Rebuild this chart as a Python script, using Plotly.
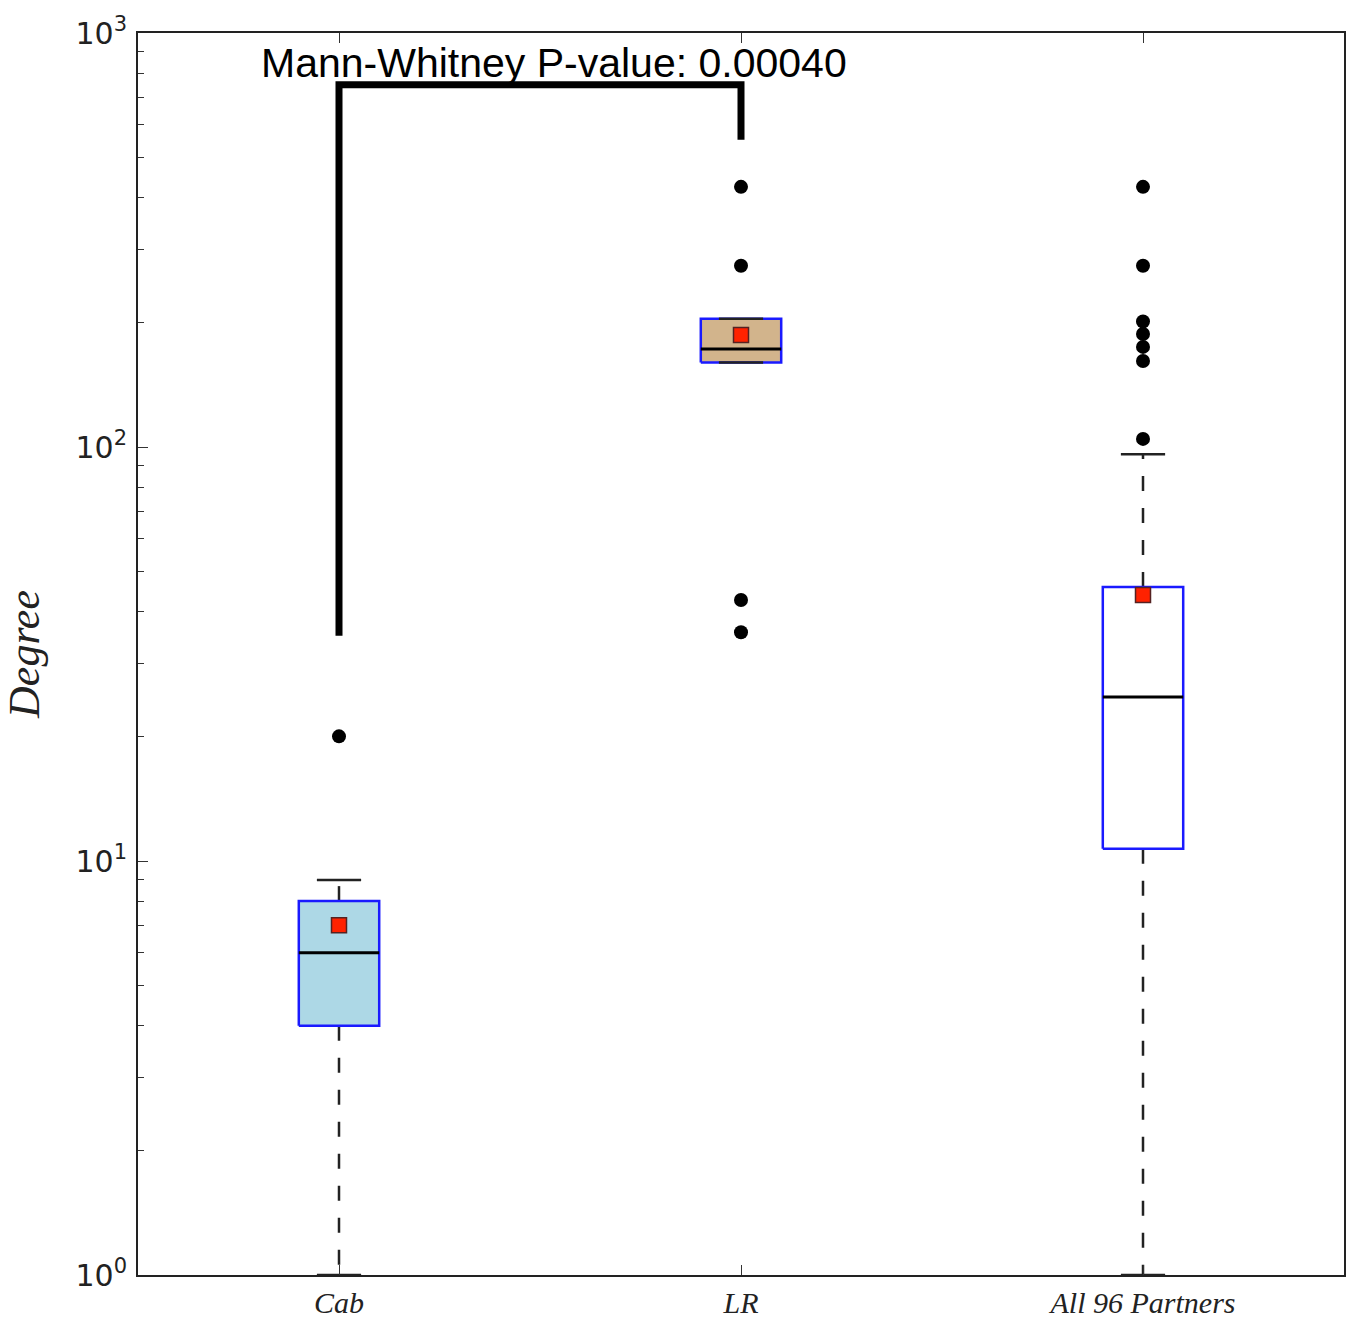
import plotly.graph_objects as go

# ---- data ----
categories = ["Cab", "LR", "All 96 Partners"]
positions = [1, 2, 3]
q1 = [4.0, 160.0, 10.7]
median = [6.0, 172.5, 24.9]
q3 = [8.0, 204.0, 45.9]
lower_whisker = [1.0, 160.0, 1.0]
upper_whisker = [9.0, 204.0, 96.0]
means = [7.0, 186.5, 43.9]
outliers = [
    [20.0],
    [425.0, 274.0, 42.7, 35.7],
    [425.0, 274.0, 201.0, 187.5, 174.5, 161.4, 104.6],
]
fill_colors = ["#add8e6", "#d2b48c", "#ffffff"]

bracket_left_bottom = 35.0
bracket_top = 750.0
bracket_right_bottom = 552.0
pvalue_text = "Mann-Whitney P-value: 0.00040"

y_tickvals = [1, 10, 100, 1000]
y_ticktext = ["10<sup>0</sup>", "10<sup>1</sup>", "10<sup>2</sup>", "10<sup>3</sup>"]
minor_vals = [m * 10 ** e for e in range(0, 3) for m in range(2, 10)]

BOX_HALF = 0.1
CAP_HALF = 0.055
DASH = "15px,17px"

fig = go.Figure()

for i, x in enumerate(positions):
    # whiskers (dashed)
    fig.add_trace(go.Scatter(x=[x, x], y=[q3[i], upper_whisker[i]], mode="lines",
                             line=dict(color="#222222", width=2.5, dash=DASH),
                             hoverinfo="skip", showlegend=False))
    fig.add_trace(go.Scatter(x=[x, x], y=[q1[i], lower_whisker[i]], mode="lines",
                             line=dict(color="#222222", width=2.5, dash=DASH),
                             hoverinfo="skip", showlegend=False))
    # box
    fig.add_trace(go.Scatter(
        x=[x - BOX_HALF, x + BOX_HALF, x + BOX_HALF, x - BOX_HALF, x - BOX_HALF],
        y=[q1[i], q1[i], q3[i], q3[i], q1[i]],
        mode="lines", fill="toself", fillcolor=fill_colors[i],
        line=dict(color="#1a1aff", width=2.5), hoverinfo="skip", showlegend=False))
    # caps
    for w in (upper_whisker[i], lower_whisker[i]):
        fig.add_trace(go.Scatter(x=[x - CAP_HALF, x + CAP_HALF], y=[w, w], mode="lines",
                                 line=dict(color="#222222", width=2.5),
                                 hoverinfo="skip", showlegend=False))
    # median
    fig.add_trace(go.Scatter(x=[x - BOX_HALF, x + BOX_HALF], y=[median[i], median[i]],
                             mode="lines", line=dict(color="black", width=3),
                             hoverinfo="skip", showlegend=False))
    # outliers
    fig.add_trace(go.Scatter(x=[x] * len(outliers[i]), y=outliers[i], mode="markers",
                             marker=dict(color="black", size=14, symbol="circle"),
                             hoverinfo="skip", showlegend=False))
    # mean
    fig.add_trace(go.Scatter(x=[x], y=[means[i]], mode="markers",
                             marker=dict(color="#ff2200", size=15, symbol="square",
                                         line=dict(color="#552222", width=1.5)),
                             hoverinfo="skip", showlegend=False))

# significance bracket
fig.add_trace(go.Scatter(x=[positions[0], positions[0], positions[1], positions[1]],
                         y=[bracket_left_bottom, bracket_top, bracket_top, bracket_right_bottom],
                         mode="lines", line=dict(color="black", width=7),
                         hoverinfo="skip", showlegend=False))

fig.add_annotation(text=pvalue_text, xref="paper", yref="paper", x=0.1, y=0.9758,
                   xanchor="left", yanchor="middle", showarrow=False,
                   font=dict(family="Liberation Sans, Arial, sans-serif", size=41, color="black"))

fig.update_layout(
    width=1349, height=1320,
    margin=dict(l=138, r=5, t=33, b=45),
    plot_bgcolor="white", paper_bgcolor="white",
    showlegend=False,
    yaxis2=dict(type="log", range=[0, 3], overlaying="y", side="right",
                tickvals=y_tickvals, showticklabels=False,
                ticks="inside", ticklen=10, tickwidth=1, tickcolor="#333",
                minor=dict(tickvals=minor_vals, ticks="inside", ticklen=6,
                           tickcolor="#333", showgrid=False),
                showgrid=False, zeroline=False, showline=False, automargin=False),
)
fig.update_xaxes(
    range=[0.5, 3.5], tickvals=positions,
    ticktext=[f"<i>{c}</i>" for c in categories],
    tickfont=dict(family="Liberation Serif, DejaVu Serif, serif", size=30, color="#222"),
    ticks="inside", ticklen=10, tickwidth=1, tickcolor="#333",
    showline=True, linecolor="#222", linewidth=2, mirror="ticks",
    showgrid=False, zeroline=False, automargin=False,
)
fig.layout.yaxis.update(
    type="log", range=[0, 3], tickvals=y_tickvals, ticktext=y_ticktext,
    tickfont=dict(family="DejaVu Sans, sans-serif", size=30, color="#222"),
    ticks="inside", ticklen=10, tickwidth=1, tickcolor="#333",
    ticklabelstandoff=3,
    minor=dict(tickvals=minor_vals, ticks="inside", ticklen=6, tickcolor="#333", showgrid=False),
    showline=True, linecolor="#222", linewidth=2, mirror=True,
    showgrid=False, zeroline=False, automargin=False,
    title=dict(text="<i>Degree</i>", font=dict(family="Liberation Serif, DejaVu Serif, serif",
                                                size=44, color="#222"), standoff=22),
)

fig.write_html(
    "out.html",
    config={"displayModeBar": False},
    post_script="document.body.style.margin='0';document.body.style.overflow='hidden';",
)
